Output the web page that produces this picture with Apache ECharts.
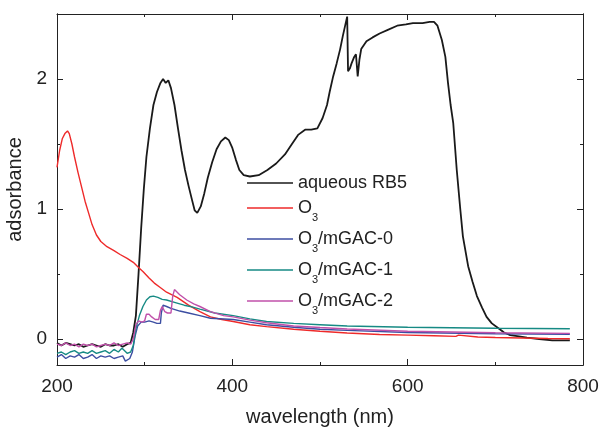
<!DOCTYPE html>
<html>
<head>
<meta charset="utf-8">
<script src="https://cdn.jsdelivr.net/npm/echarts@6/dist/echarts.min.js"></script>
<style>
  html, body { margin: 0; padding: 0; background: #fff; }
  #chart { width: 600px; height: 427px; }
</style>
</head>
<body>
<div id="chart"></div>
<script>
// 图例名称
const names = ['aqueous RB5', 'O3', 'O3/mGAC-0', 'O3/mGAC-1', 'O3/mGAC-2'];
const colors = ['#1a1a1a', '#ee2a2a', '#3c4ea2', '#168a84', '#c050aa'];

// aqueous RB5
const rb5X = [200, 205, 210, 215, 220, 225, 230, 235, 240, 245, 250, 255, 260, 265, 270, 275, 280, 284, 287, 290, 293, 296, 299, 302, 306, 310, 314, 318, 321, 324, 327, 330, 334, 338, 342, 346, 350, 354, 357, 360, 364, 368, 372, 377, 382, 387, 392, 396, 400, 404, 408, 413, 420, 430, 440, 450, 460, 468, 475, 483, 490, 497, 503, 508, 511, 515, 519, 523, 526, 529, 531, 532, 534, 536, 539, 541, 543, 545, 547, 553, 560, 568, 578, 588, 598, 606, 617, 625, 630, 634, 639, 643, 646, 649, 652, 656, 660, 663, 669, 674, 679, 685, 690, 696, 702, 710, 717, 727, 736, 750, 765, 785];
const rb5Y = [-0.03, -0.05, -0.03, -0.04, -0.05, -0.04, -0.06, -0.05, -0.04, -0.05, -0.06, -0.04, -0.05, -0.05, -0.04, -0.06, -0.04, -0.03, 0.05, 0.18, 0.5, 0.85, 1.15, 1.4, 1.62, 1.8, 1.9, 1.97, 2.0, 1.97, 1.99, 1.93, 1.8, 1.62, 1.45, 1.3, 1.18, 1.07, 0.99, 0.97, 1.02, 1.12, 1.24, 1.36, 1.46, 1.52, 1.55, 1.53, 1.47, 1.38, 1.3, 1.26, 1.25, 1.26, 1.3, 1.35, 1.42, 1.5, 1.57, 1.61, 1.61, 1.62, 1.7, 1.8, 1.9, 2.02, 2.12, 2.23, 2.33, 2.42, 2.48, 2.06, 2.08, 2.12, 2.17, 2.19, 2.02, 2.15, 2.23, 2.29, 2.32, 2.35, 2.38, 2.41, 2.42, 2.43, 2.43, 2.44, 2.44, 2.41, 2.3, 2.17, 1.97, 1.8, 1.66, 1.3, 1.0, 0.79, 0.56, 0.44, 0.33, 0.24, 0.17, 0.12, 0.09, 0.05, 0.03, 0.02, 0.01, 0.0, -0.01, -0.01];

// O3
const o3X = [200, 203, 206, 209, 212, 214, 217, 220, 224, 228, 232, 236, 240, 245, 250, 257, 265, 272, 280, 287, 293, 298, 305, 311, 317, 325, 337, 350, 363, 375, 388, 401, 420, 439, 470, 500, 531, 568, 600, 630, 655, 658, 660, 680, 700, 730, 760, 785];
const o3Y = [1.32, 1.45, 1.54, 1.58, 1.6, 1.58, 1.5, 1.4, 1.28, 1.17, 1.06, 0.97, 0.88, 0.8, 0.75, 0.71, 0.68, 0.65, 0.62, 0.59, 0.55, 0.52, 0.47, 0.43, 0.4, 0.36, 0.32, 0.26, 0.21, 0.17, 0.15, 0.135, 0.11, 0.095, 0.075, 0.06, 0.046, 0.035, 0.03, 0.025, 0.02, 0.03, 0.015, 0.015, 0.012, 0.008, 0.004, 0.002];

// O3/mGAC-0
const g0X = [200, 205, 210, 215, 220, 225, 230, 235, 240, 245, 250, 255, 260, 265, 270, 275, 278, 283, 286, 289, 292, 296, 300, 305, 310, 314, 318, 319, 321, 325, 330, 340, 350, 363, 375, 401, 420, 439, 470, 500, 531, 600, 700, 785];
const g0Y = [-0.14, -0.12, -0.15, -0.13, -0.14, -0.12, -0.15, -0.14, -0.12, -0.15, -0.13, -0.14, -0.13, -0.15, -0.14, -0.13, -0.17, -0.15, -0.1, 0.02, 0.1, 0.13, 0.13, 0.14, 0.13, 0.12, 0.12, 0.2, 0.26, 0.25, 0.235, 0.215, 0.2, 0.18, 0.16, 0.15, 0.13, 0.11, 0.09, 0.075, 0.066, 0.05, 0.04, 0.036];

// O3/mGAC-1
const g1X = [200, 205, 210, 215, 220, 225, 230, 235, 240, 245, 250, 255, 260, 265, 270, 274, 280, 284, 287, 290, 294, 298, 302, 306, 310, 315, 320, 325, 335, 345, 355, 363, 380, 401, 420, 439, 470, 500, 531, 600, 700, 785];
const g1Y = [-0.11, -0.1, -0.12, -0.1, -0.09, -0.11, -0.1, -0.11, -0.09, -0.11, -0.1, -0.09, -0.11, -0.08, -0.1, -0.07, -0.11, -0.1, -0.05, 0.08, 0.18, 0.25, 0.3, 0.325, 0.33, 0.32, 0.305, 0.3, 0.28, 0.26, 0.245, 0.23, 0.2, 0.18, 0.155, 0.135, 0.12, 0.11, 0.1, 0.09, 0.083, 0.079];

// O3/mGAC-2
const g2X = [200, 205, 210, 215, 220, 225, 230, 235, 240, 245, 250, 255, 260, 265, 270, 275, 280, 284, 287, 290, 293, 297, 300, 302, 305, 308, 312, 316, 318, 320, 323, 326, 330, 332, 334, 340, 348, 356, 363, 375, 390, 401, 420, 439, 470, 500, 531, 600, 700, 785];
const g2Y = [-0.04, -0.05, -0.03, -0.05, -0.04, -0.06, -0.04, -0.05, -0.04, -0.06, -0.05, -0.04, -0.05, -0.03, -0.05, -0.04, -0.03, -0.04, 0.0, 0.11, 0.14, 0.13, 0.14, 0.19, 0.19, 0.17, 0.15, 0.15, 0.22, 0.25, 0.21, 0.2, 0.2, 0.33, 0.38, 0.34, 0.3, 0.27, 0.25, 0.21, 0.18, 0.17, 0.145, 0.125, 0.1, 0.088, 0.077, 0.06, 0.048, 0.043];

// 刻度
const yMajor = [0, 1, 2];
const yMinor = [0.5, 1.5];

const seriesX = [rb5X, o3X, g0X, g1X, g2X];
const seriesY = [rb5Y, o3Y, g0Y, g1Y, g2Y];

const chart = echarts.init(document.getElementById('chart'), null, { renderer: 'canvas' });

const font = 'Liberation Sans, Arial, sans-serif';
const axisColor = '#222';

function yAxisDef(position, ticks, len, showLabel) {
  return {
    type: 'value',
    position: position,
    min: -0.2,
    max: 2.5,
    axisLine: { show: true, onZero: false, lineStyle: { color: axisColor, width: 1 } },
    axisTick: { show: true, inside: true, length: len, customValues: ticks, lineStyle: { color: axisColor } },
    axisLabel: { show: showLabel, customValues: yMajor, margin: 10, color: '#222', fontSize: 19, fontFamily: font },
    splitLine: { show: false }
  };
}

function xAxisDef(position, showLabel) {
  return {
    type: 'value',
    position: position,
    min: 200,
    max: 800,
    interval: 200,
    axisLine: { show: true, onZero: false, lineStyle: { color: axisColor, width: 1 } },
    axisTick: { show: true, inside: true, length: 6, lineStyle: { color: axisColor } },
    minorTick: { show: true, splitNumber: 2, length: 3, lineStyle: { color: axisColor } },
    axisLabel: { show: showLabel, margin: 12, color: '#222', fontSize: 19, fontFamily: font },
    splitLine: { show: false }
  };
}

const xBottom = xAxisDef('bottom', true);
xBottom.name = 'wavelength (nm)';
xBottom.nameLocation = 'middle';
xBottom.nameGap = 42;
xBottom.nameTextStyle = { fontSize: 20, color: '#222', fontFamily: font };

const yLeft = yAxisDef('left', yMajor, 6, true);
yLeft.name = 'adsorbance';
yLeft.nameLocation = 'middle';
yLeft.nameGap = 32;
yLeft.nameTextStyle = { fontSize: 20, color: '#222', fontFamily: font };

const option = {
  backgroundColor: '#fff',
  animation: false,
  grid: { left: 57, right: 17, top: 14, bottom: 62, containLabel: false, outerBoundsMode: 'none' },
  legend: {
    orient: 'vertical',
    left: 247,
    top: 174,
    padding: 0,
    itemWidth: 46,
    itemHeight: 14,
    itemGap: 1,
    icon: 'path://M0,0 L46,0 L46,1.6 L0,1.6 Z',
    data: names,
    formatter: function (name) {
      return name.replace('O3', 'O{sub|3}');
    },
    textStyle: {
      fontSize: 18,
      lineHeight: 18,
      color: '#222',
      fontFamily: font,
      rich: {
        sub: { fontSize: 11, lineHeight: 30, verticalAlign: 'bottom', fontFamily: font, color: '#222' }
      }
    }
  },
  xAxis: [xBottom, xAxisDef('top', false)],
  yAxis: [
    yLeft,
    yAxisDef('left', yMinor, 3, false),
    yAxisDef('right', yMajor, 6, false),
    yAxisDef('right', yMinor, 3, false)
  ],
  series: names.map(function (n, i) {
    return {
      name: n,
      type: 'line',
      xAxisIndex: 0,
      yAxisIndex: 0,
      showSymbol: false,
      symbol: 'none',
      smooth: false,
      color: colors[i],
      lineStyle: { color: colors[i], width: i === 0 ? 1.8 : 1.4 },
      data: seriesX[i].map(function (x, k) { return [x, seriesY[i][k]]; })
    };
  })
};

chart.setOption(option);
</script>
</body>
</html>
